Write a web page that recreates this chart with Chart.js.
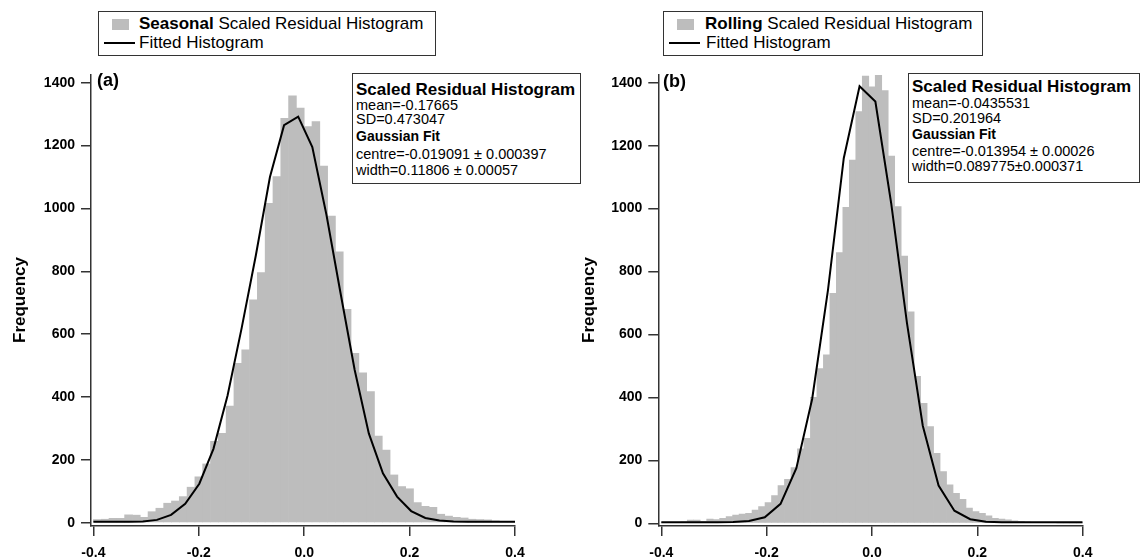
<!DOCTYPE html>
<html>
<head>
<meta charset="utf-8">
<script src="https://cdn.jsdelivr.net/npm/chart.js@4.4.1/dist/chart.umd.min.js"></script>
<style>
  body { margin: 0; width: 1140px; height: 559px; overflow: hidden; position: relative; background: #fff;
         font-family: "Liberation Sans", Arial, sans-serif; color: #000; }
  canvas { position: absolute; top: 0; }
  .box { position: absolute; border: 1px solid #333; background: #fff; box-sizing: border-box; }
  .t { position: absolute; white-space: nowrap; }
  .swatch { position: absolute; background: #bdbdbd; }
  .sample { position: absolute; background: #000; height: 2px; }
  .ylab { position: absolute; font-weight: bold; font-size: 17px; line-height: 20px; white-space: nowrap;
          transform: translate(-50%, -50%) rotate(-90deg); }
</style>
</head>
<body>
<canvas id="seasonal" width="570" height="559" style="left:0"></canvas>
<canvas id="rolling" width="570" height="559" style="left:570px"></canvas>

<!-- legends -->
<div class="box" style="left:98px;top:11px;width:338px;height:45px"></div>
<div class="swatch" style="left:112px;top:19px;width:17px;height:11px"></div>
<div class="t" style="left:139px;top:14px;font-size:17px;line-height:20px"><b>Seasonal</b> Scaled Residual Histogram</div>
<div class="sample" style="left:104px;top:42px;width:31px"></div>
<div class="t" style="left:139px;top:33px;font-size:17px;line-height:20px">Fitted Histogram</div>

<div class="box" style="left:663px;top:11px;width:320px;height:45px"></div>
<div class="swatch" style="left:677px;top:19px;width:17px;height:11px"></div>
<div class="t" style="left:705px;top:14px;font-size:17px;line-height:20px"><b>Rolling</b> Scaled Residual Histogram</div>
<div class="sample" style="left:669px;top:42px;width:31px"></div>
<div class="t" style="left:706px;top:33px;font-size:17px;line-height:20px">Fitted Histogram</div>

<!-- panel tags -->
<div class="t" style="left:97px;top:69px;font-size:18px;line-height:22px;font-weight:bold">(a)</div>
<div class="t" style="left:663px;top:70px;font-size:18px;line-height:22px;font-weight:bold">(b)</div>

<!-- axis titles -->
<div class="ylab" style="left:20px;top:300px">Frequency</div>
<div class="ylab" style="left:589px;top:300px">Frequency</div>

<!-- fit summaries -->
<div class="box" style="left:352px;top:73px;width:229px;height:111px"></div>
<div class="t" style="left:356px;top:80px;font-size:17px;line-height:20px;font-weight:bold">Scaled Residual Histogram</div>
<div class="t" style="left:356px;top:95px;font-size:14.5px;line-height:20px">mean=-0.17665</div>
<div class="t" style="left:356px;top:109px;font-size:14.5px;line-height:20px">SD=0.473047</div>
<div class="t" style="left:356px;top:126px;font-size:14px;line-height:20px;font-weight:bold">Gaussian Fit</div>
<div class="t" style="left:356px;top:144px;font-size:14.5px;line-height:20px">centre=-0.019091 ± 0.000397</div>
<div class="t" style="left:356px;top:160px;font-size:14.5px;line-height:20px">width=0.11806 ± 0.00057</div>

<div class="box" style="left:908px;top:73px;width:232px;height:110px"></div>
<div class="t" style="left:912px;top:77px;font-size:17px;line-height:20px;font-weight:bold">Scaled Residual Histogram</div>
<div class="t" style="left:912px;top:93px;font-size:14.5px;line-height:20px">mean=-0.0435531</div>
<div class="t" style="left:912px;top:108px;font-size:14.5px;line-height:20px">SD=0.201964</div>
<div class="t" style="left:912px;top:124px;font-size:14px;line-height:20px;font-weight:bold">Gaussian Fit</div>
<div class="t" style="left:912px;top:141px;font-size:14.5px;line-height:20px">centre=-0.013954 ± 0.00026</div>
<div class="t" style="left:912px;top:156px;font-size:14.5px;line-height:20px">width=0.089775±0.000371</div>

<script>
// Histogram range shared by both panels
const HIST_START = -0.4;
const HIST_END = 0.4;

// Tick labels
const xTicks = [-0.4, -0.2, 0.0, 0.2, 0.4];
const yTicks = [0, 200, 400, 600, 800, 1000, 1200, 1400];

// (a) Seasonal scaled residuals: 54 equal bins over [-0.4, 0.4]
const seasonalBinCount = 54;
const seasonalCounts = [
  10, 11, 14, 14, 25, 24, 17, 35, 46, 62, 69, 83, 113, 146, 187, 259, 284, 371,
  507, 550, 709, 796, 1016, 1101, 1287, 1358, 1319, 1260, 1276, 1135, 976, 862,
  679, 539, 477, 417, 276, 231, 152, 115, 108, 64, 52, 49, 27, 21, 17, 15,
  11, 10, 9, 6, 4, 3
];
const seasonalFitX = [
  -0.4, -0.3598, -0.333, -0.3062, -0.2794, -0.2526, -0.2258, -0.199, -0.1722, -0.1454,
  -0.1186, -0.0918, -0.065, -0.0382, -0.0114, 0.0154, 0.0422, 0.069, 0.0958, 0.1226,
  0.1494, 0.1762, 0.203, 0.2298, 0.2566, 0.2834, 0.3102, 0.337, 0.3638, 0.4
];
const seasonalFitY = [
  3, 3, 3, 4, 9, 25, 60, 124, 235, 405,
  620, 850, 1100, 1265, 1292, 1195, 980, 730, 486, 284,
  157, 83, 37, 15, 7, 4, 3, 3, 3, 3
];

// (b) Rolling scaled residuals: 65 equal bins over [-0.4, 0.4]
const rollingBinCount = 65;
const rollingCounts = [
  2, 3, 3, 5, 10, 10, 6, 13, 12, 16, 21, 26, 29, 32, 42, 53, 66, 88,
  120, 140, 177, 237, 270, 400, 492, 535, 731, 860, 1004, 1154, 1308, 1421,
  1387, 1425, 1375, 1167, 1006, 849, 672, 467, 381, 307, 222, 164, 122, 95,
  76, 48, 37, 32, 24, 16, 13, 11, 8, 6, 4, 3, 3, 2, 2, 1, 1, 1, 1
];
const rollingFitX = [
  -0.4, -0.3536, -0.3236, -0.2936, -0.2636, -0.2336, -0.2036, -0.1736, -0.1436, -0.1136,
  -0.0836, -0.0536, -0.0236, 0.0064, 0.0364, 0.0664, 0.0964, 0.1264, 0.1564, 0.1864,
  0.2164, 0.2464, 0.2764, 0.3064, 0.3364, 0.3664, 0.4
];
const rollingFitY = [
  3, 3, 3, 3, 4, 7, 19, 62, 175, 395,
  741, 1160, 1389, 1340, 1017, 636, 310, 120, 40, 13,
  5, 3, 3, 3, 3, 3, 3
];

const FONT = "'Liberation Sans', Arial, sans-serif";
const AXIS_COLOR = '#333';
const BAR_COLOR = '#bdbdbd';

function histogramPanel(canvasId, counts, binCount, fitX, fitY, frame) {
  const binWidth = (HIST_END - HIST_START) / binCount;
  const bars = counts.map((c, i) => ({ x: HIST_START + (i + 0.5) * binWidth, y: c }));
  const fit = fitX.map((x, i) => ({ x: x, y: fitY[i] }));

  const tickFont = { family: FONT, size: 14, weight: 'bold' };

  return new Chart(document.getElementById(canvasId), {
    type: 'bar',
    data: {
      datasets: [
        {
          type: 'line',
          label: 'Fitted Histogram',
          data: fit,
          borderColor: '#000',
          borderWidth: 2,
          pointRadius: 0,
          tension: 0,
          fill: false,
          order: 0
        },
        {
          type: 'bar',
          label: 'Scaled Residual Histogram',
          data: bars,
          backgroundColor: BAR_COLOR,
          borderWidth: 0,
          barPercentage: 1,
          categoryPercentage: 1,
          order: 1
        }
      ]
    },
    options: {
      responsive: false,
      animation: false,
      devicePixelRatio: 1,
      layout: { padding: { left: 0, right: frame.padRight, top: frame.padTop, bottom: 0 } },
      plugins: { legend: { display: false }, tooltip: { enabled: false } },
      scales: {
        x: {
          type: 'linear',
          offset: false,
          min: frame.xMin,
          max: HIST_END,
          afterBuildTicks: (axis) => { axis.ticks = xTicks.map(v => ({ value: v })); },
          afterFit: (axis) => { axis.height = frame.xAxisHeight; },
          grid: { offset: false, drawOnChartArea: false, drawTicks: true, tickLength: 10,
                  color: AXIS_COLOR, lineWidth: 1.5 },
          border: { display: true, color: AXIS_COLOR, width: 1.5 },
          ticks: { font: tickFont, color: '#000', padding: 9, maxRotation: 0, autoSkip: false,
                   callback: (v) => Number(v).toFixed(1) }
        },
        y: {
          type: 'linear',
          min: frame.yMin,
          max: frame.yMax,
          afterBuildTicks: (axis) => { axis.ticks = yTicks.map(v => ({ value: v })); },
          afterFit: (axis) => { axis.width = frame.yAxisWidth; },
          grid: { drawOnChartArea: false, drawTicks: true, tickLength: 10,
                  color: AXIS_COLOR, lineWidth: 1.5 },
          border: { display: true, color: AXIS_COLOR, width: 1.5 },
          ticks: { font: tickFont, color: '#000', padding: 6, autoSkip: false,
                   callback: (v) => String(v) }
        }
      }
    }
  });
}

histogramPanel('seasonal', seasonalCounts, seasonalBinCount, seasonalFitX, seasonalFitY, {
  padRight: 55, padTop: 75, xAxisHeight: 33, yAxisWidth: 91,
  xMin: -0.40455, yMin: -10.5, yMax: 1424.5
});

histogramPanel('rolling', rollingCounts, rollingBinCount, rollingFitX, rollingFitY, {
  padRight: 57.3, padTop: 75, xAxisHeight: 33, yAxisWidth: 88.3,
  xMin: -0.4057, yMin: -8.6, yMax: 1424.5
});
</script>
</body>
</html>
